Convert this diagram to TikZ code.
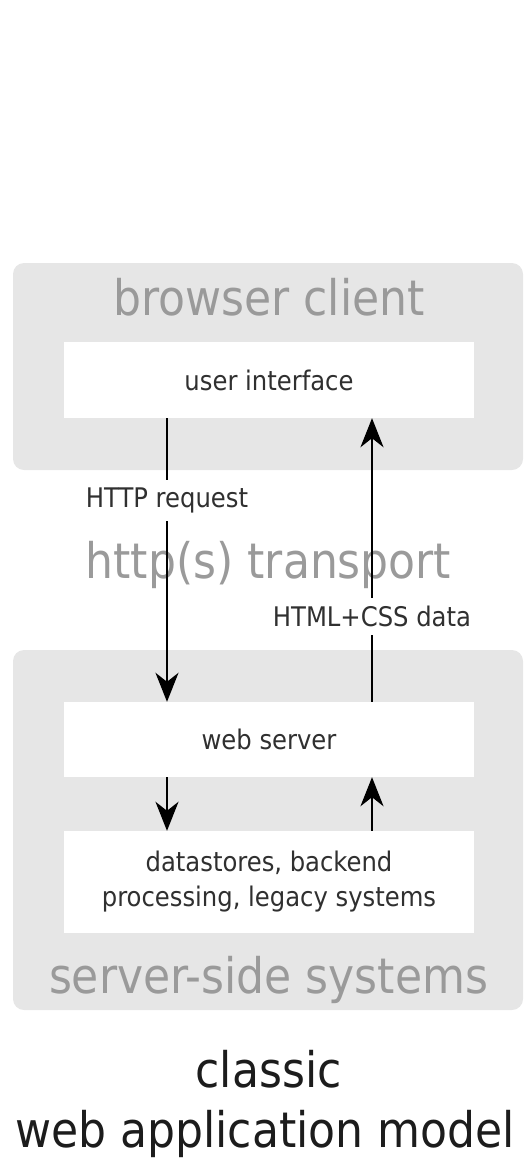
\documentclass[tikz,border=0pt]{standalone}
\usepackage{fontspec}
\setmainfont{DejaVu Sans Condensed}
\usetikzlibrary{arrows.meta}
\definecolor{zonegray}{HTML}{E6E6E6}
\definecolor{zonetext}{HTML}{9A9A9A}
\definecolor{boxtext}{HTML}{303030}
\definecolor{titletext}{HTML}{1C1C1C}
\begin{document}
\begin{tikzpicture}[x=1pt,y=-1pt,
	layerbox/.style={fill=white,minimum width=410pt,text=boxtext,font=\fontsize{27}{35}\selectfont,align=center},
	zonelabel/.style={text=zonetext,font=\fontsize{49}{55}\selectfont,anchor=base,inner sep=0pt},
	flowlabel/.style={fill=white,text=boxtext,font=\fontsize{27}{32}\selectfont,inner xsep=2pt,inner ysep=8pt},
	flow/.style={line width=2.4pt,-{Stealth[length=29pt,width=23pt,inset=9pt]}}]
		\useasboundingbox (0,0) rectangle (524,1159);
		\fill[zonegray,rounded corners=11pt] (13,263) rectangle (523,470) ;%client
		\fill[zonegray,rounded corners=11pt] (13,650) rectangle (523,1010) ;%server
		\node[zonelabel] (client) at (269,315) {browser client};
		\node[zonelabel] (transport) at (268.5,578) {http(s) transport};
		\node[zonelabel] (server) at (268.5,993) {server-side systems};
		\node[layerbox,minimum height=76pt] (ui) at (269,380) {user interface};
		\node[layerbox,minimum height=75pt] (web) at (269,739.5) {web server};
		\node[layerbox,minimum height=102pt] (data) at (269,882) {datastores, backend\\processing, legacy systems};
		\coordinate (left) at (167,0) ;
		\coordinate (right) at (372,0) ;
		\draw[flow] (ui.south -| left)--(web.north -| left) node[flowlabel,pos=0.29] (req) {HTTP request} ;
		\draw[flow] (web.north -| right)--(ui.south -| right) node[flowlabel,pos=0.3] (resp) {HTML+CSS data} ;
		\draw[flow] (web.south -| left)--(data.north -| left) ;
		\draw[flow] (data.north -| right)--(web.south -| right) ;
		\node[text=titletext,font=\fontsize{49}{55}\selectfont,anchor=base,inner sep=0pt] (title1) at (268.5,1087) {classic};
		\node[text=titletext,font=\fontsize{49}{55}\selectfont,anchor=base,inner sep=0pt] (title2) at (265,1147) {web application model};
	\end{tikzpicture}
\end{document}
